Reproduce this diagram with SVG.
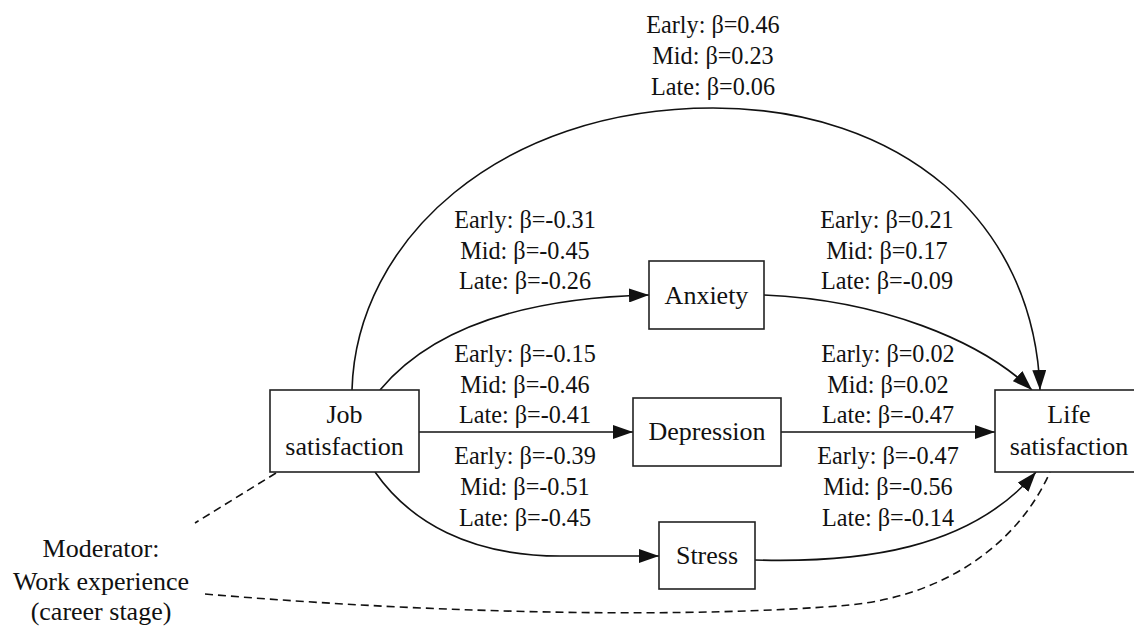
<svg xmlns="http://www.w3.org/2000/svg" width="1134" height="626" viewBox="0 0 1134 626">
<style>
.box{fill:#fff;stroke:#222;stroke-width:1.6}
.nl{font-family:'Liberation Serif','Times New Roman',Times,serif;font-size:26px;fill:#111;text-anchor:middle}
.el{font-family:'Liberation Serif','Times New Roman',Times,serif;font-size:24.2px;fill:#111;text-anchor:middle}
.edge{fill:none;stroke:#111;stroke-width:1.6}
.dash{fill:none;stroke:#111;stroke-width:1.6;stroke-dasharray:8,5}
</style>
<defs>
<marker id="arr" markerUnits="userSpaceOnUse" markerWidth="20" markerHeight="14" refX="20" refY="7" orient="auto">
<path d="M0,0 L20,7 L0,14 z" fill="#111"/>
</marker>
</defs>
<rect width="1134" height="626" fill="#fff"/>
<g id="connectors">
<path class="edge" d="M352,390 C356,240 500,108 713,108 C900,108 1034,220 1040,390" marker-end="url(#arr)"/>
<path class="edge" d="M380,390 C430,330 520,298 649,295" marker-end="url(#arr)"/>
<path class="edge" d="M419,432 L633,432" marker-end="url(#arr)"/>
<path class="edge" d="M375,472 C410,522 470,556 560,556 L659,556" marker-end="url(#arr)"/>
<path class="edge" d="M764,295 C880,300 980,340 1032,390" marker-end="url(#arr)"/>
<path class="edge" d="M781,432 L995,432" marker-end="url(#arr)"/>
<path class="edge" d="M755,560 C860,563 970,550 1036,472" marker-end="url(#arr)"/>
<path class="dash" d="M276,473 L195,523"/>
<path class="dash" d="M205,594 C450,615 700,618 850,605 C950,595 1020,540 1050,472"/>
</g>
<g id="edge-labels">
<text class="el"><tspan x="713" y="33">Early: β=0.46</tspan><tspan x="713" y="64">Mid: β=0.23</tspan><tspan x="713" y="95">Late: β=0.06</tspan></text>
<text class="el"><tspan x="525" y="228">Early: β=-0.31</tspan><tspan x="525" y="259">Mid: β=-0.45</tspan><tspan x="525" y="289">Late: β=-0.26</tspan></text>
<text class="el"><tspan x="887" y="228">Early: β=0.21</tspan><tspan x="887" y="259">Mid: β=0.17</tspan><tspan x="887" y="289">Late: β=-0.09</tspan></text>
<text class="el"><tspan x="525" y="362">Early: β=-0.15</tspan><tspan x="525" y="393">Mid: β=-0.46</tspan><tspan x="525" y="423">Late: β=-0.41</tspan></text>
<text class="el"><tspan x="888" y="362">Early: β=0.02</tspan><tspan x="888" y="393">Mid: β=0.02</tspan><tspan x="888" y="423">Late: β=-0.47</tspan></text>
<text class="el"><tspan x="525" y="464">Early: β=-0.39</tspan><tspan x="525" y="495">Mid: β=-0.51</tspan><tspan x="525" y="526">Late: β=-0.45</tspan></text>
<text class="el"><tspan x="888" y="464">Early: β=-0.47</tspan><tspan x="888" y="495">Mid: β=-0.56</tspan><tspan x="888" y="526">Late: β=-0.14</tspan></text>
</g>
<g id="job">
<rect class="box" x="270" y="390" width="149" height="82"/>
<text class="nl"><tspan x="344.5" y="423">Job</tspan><tspan x="344.5" y="455">satisfaction</tspan></text>
</g>
<g id="anxiety">
<rect class="box" x="649" y="261" width="115" height="68"/>
<text class="nl" x="706.5" y="304">Anxiety</text>
</g>
<g id="depression">
<rect class="box" x="633" y="398" width="148" height="68"/>
<text class="nl" x="707" y="440">Depression</text>
</g>
<g id="stress">
<rect class="box" x="659" y="522" width="96" height="67"/>
<text class="nl" x="707" y="564">Stress</text>
</g>
<g id="life">
<rect class="box" x="995" y="390" width="148" height="82"/>
<text class="nl"><tspan x="1069" y="423">Life</tspan><tspan x="1069" y="455">satisfaction</tspan></text>
</g>
<g id="moderator">
<text class="nl"><tspan x="101" y="557">Moderator:</tspan><tspan x="101" y="590">Work experience</tspan><tspan x="101" y="620">(career stage)</tspan></text>
</g>
</svg>
